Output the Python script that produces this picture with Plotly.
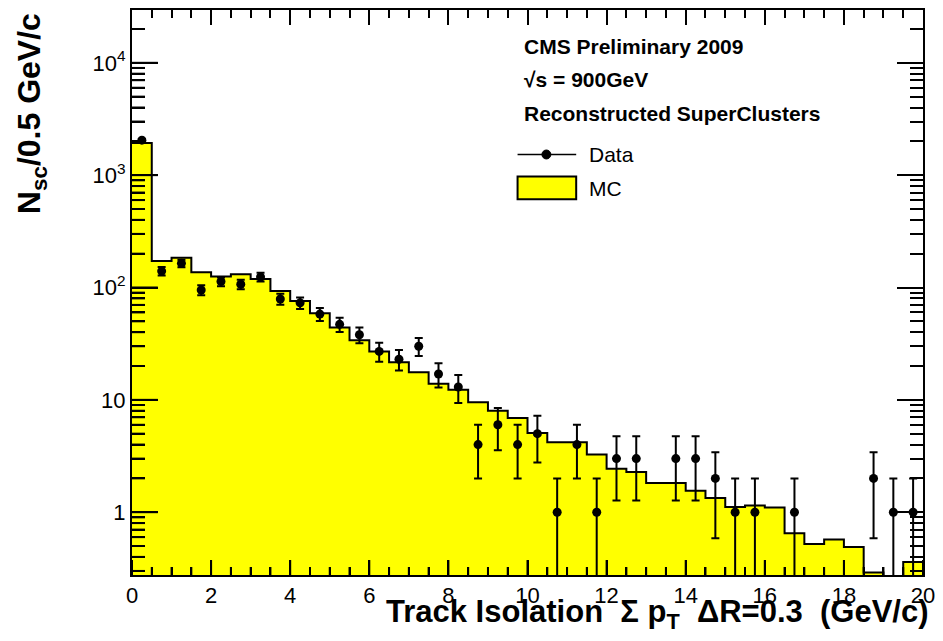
import numpy as np
import plotly.graph_objects as go

# ---- data (40 bins of 0.5 GeV/c from 0 to 20) ----
bin_width = 0.5
bin_edges = [i * bin_width for i in range(41)]
mc_counts = [1930, 172, 184, 137, 125, 131, 119, 93, 76, 59,
             44, 34, 27, 21.6, 17.6, 13.9, 12.3, 9.5, 8.0, 6.9,
             5.06, 4.2, 4.2, 3.27, 2.44, 2.28, 1.82, 1.82, 1.55, 1.34,
             1.11, 1.15, 1.10, 0.65, 0.52, 0.57, 0.49, 0.29, 0, 0.36]
data_counts = [2050, 140, 164, 95, 113, 107, 124, 79, 73, 58,
               47, 38, 27, 23, 30, 17, 13, 4, 6, 4,
               5, 1, 4, 1, 3, 3, 0, 3, 3, 2,
               1, 1, 0, 1, 0, 0, 0, 2, 1, 1]
y_tick_vals = [1, 10, 100, 1000, 10000]
y_tick_text = ["1", "10", "10<sup>2</sup>", "10<sup>3</sup>", "10<sup>4</sup>"]
x_tick_vals = [0, 2, 4, 6, 8, 10, 12, 14, 16, 18, 20]

centers = [(bin_edges[i] + bin_edges[i + 1]) / 2 for i in range(40)]

FONT = "Liberation Sans, Arial, Helvetica, sans-serif"
W, H = 943, 641
ML, MR, MT, MB = 132, 15, 8, 66
PW, PH = W - ML - MR, H - MT - MB
X_RANGE = [0, 20]
Y_RANGE = [-0.559, 4.470]


def px(x):
    return (x - ML) / PW


def py(y):
    return (H - MB - y) / PH


def ylog_paper(v):
    return (np.log10(v) - Y_RANGE[0]) / (Y_RANGE[1] - Y_RANGE[0])


fig = go.Figure()

# MC filled histogram
fig.add_trace(go.Bar(x=centers, y=mc_counts, width=bin_width,
                     marker=dict(color="#ffff00", line=dict(width=0)),
                     showlegend=False, hoverinfo="skip"))

# MC outline (step)
step_y = [v if v > 0 else 1e-3 for v in mc_counts] + [mc_counts[-1]]
fig.add_trace(go.Scatter(x=bin_edges, y=step_y, mode="lines",
                         line=dict(color="black", width=2, shape="hv"),
                         showlegend=False, hoverinfo="skip"))

# Data points with Poisson errors
dx = [c for c, n in zip(centers, data_counts) if n > 0]
dy = [n for n in data_counts if n > 0]
de = [float(np.sqrt(n)) for n in dy]
fig.add_trace(go.Scatter(x=dx, y=dy, mode="markers",
                         marker=dict(color="black", size=9),
                         error_y=dict(type="data", array=de, visible=True,
                                      color="black", thickness=2, width=4),
                         showlegend=False))

minor_y = [k * 10 ** d for d in range(-1, 5) for k in range(2, 10)
           if Y_RANGE[0] < np.log10(k * 10 ** d) < Y_RANGE[1]]
minor_x = [i * 0.5 for i in range(41) if (i * 0.5) % 2 != 0]

fig.update_layout(
    width=W, height=H,
    margin=dict(l=ML, r=MR, t=MT, b=MB),
    paper_bgcolor="white", plot_bgcolor="white",
    bargap=0, showlegend=False,
    font=dict(family=FONT, color="black"),
    xaxis=dict(range=X_RANGE, showgrid=False, zeroline=False,
               showline=True, linecolor="black", linewidth=2, mirror="ticks",
               ticks="inside", ticklen=15, tickwidth=1.5, tickcolor="black",
               tickmode="array", tickvals=x_tick_vals,
               tickfont=dict(size=22, family=FONT, color="black"),
               minor=dict(ticks="inside", ticklen=8, tickwidth=1.5,
                          tickcolor="black", dtick=0.5, showgrid=False)),
    yaxis=dict(type="log", range=Y_RANGE, showgrid=False, zeroline=False,
               showline=True, linecolor="black", linewidth=2, mirror="ticks",
               ticks="inside", ticklen=26, tickwidth=1.5, tickcolor="black",
               tickmode="array", tickvals=y_tick_vals, ticktext=y_tick_text,
               tickfont=dict(size=22, family=FONT, color="black"),
               minor=dict(ticks="inside", ticklen=13, tickwidth=1.5,
                          tickcolor="black", tickmode="array", tickvals=minor_y,
                          showgrid=False)),
)

ann = []
# axis titles
ann.append(dict(text="<b>Track Isolation  Σ p<sub>T</sub>  ΔR=0.3  (GeV/c)</b>",
                xref="paper", yref="paper", x=1.0, y=0, xanchor="right", yanchor="top",
                yshift=-17, xshift=8, showarrow=False,
                font=dict(size=31, family=FONT, color="black")))
ann.append(dict(text="<b>N<sub>sc</sub>/0.5 GeV/c</b>",
                xref="paper", yref="paper", x=px(31), y=py(9), xanchor="center",
                yanchor="top", textangle=-90, showarrow=False,
                font=dict(size=32, family=FONT, color="black")))
# info text
for txt, yy in [("<b>CMS Preliminary 2009</b>", 45), ("<b>√s = 900GeV</b>", 78),
                ("<b>Reconstructed SuperClusters</b>", 112)]:
    ann.append(dict(text=txt, xref="paper", yref="paper", x=px(524), y=py(yy),
                    xanchor="left", yanchor="middle", showarrow=False,
                    font=dict(size=21, family=FONT, color="black")))
for txt, yy in [("Data", 153), ("MC", 187)]:
    ann.append(dict(text=txt, xref="paper", yref="paper", x=px(590), y=py(yy),
                    xanchor="left", yanchor="middle", showarrow=False,
                    font=dict(size=21, family=FONT, color="black")))
fig.update_layout(annotations=ann)

tick_line = dict(color="black", width=2)
shapes = []
# bottom axis ticks (inside)
for v in x_tick_vals:
    shapes.append(dict(type="line", xref="x", x0=v, x1=v, yref="paper",
                       y0=0, y1=15 / PH, line=tick_line))
for v in minor_x:
    shapes.append(dict(type="line", xref="x", x0=v, x1=v, yref="paper",
                       y0=0, y1=8 / PH, line=tick_line))
# left axis ticks (inside)
for v in y_tick_vals:
    yp = float(ylog_paper(v))
    shapes.append(dict(type="line", yref="paper", y0=yp, y1=yp, xref="paper",
                       x0=0, x1=26 / PW, line=tick_line))
for v in minor_y:
    yp = float(ylog_paper(v))
    shapes.append(dict(type="line", yref="paper", y0=yp, y1=yp, xref="paper",
                       x0=0, x1=13 / PW, line=tick_line))
# legend symbols
shapes += [
    dict(type="line", xref="paper", yref="paper", x0=px(520), x1=px(579),
         y0=py(153), y1=py(153), line=dict(color="black", width=1.5)),
    dict(type="circle", xref="paper", yref="paper", x0=px(544.5), x1=px(553.5),
         y0=py(148.5), y1=py(157.5), fillcolor="black", line=dict(color="black", width=1)),
    dict(type="rect", xref="paper", yref="paper", x0=px(520), x1=px(579),
         y0=py(198), y1=py(175), fillcolor="#ffff00", line=dict(color="black", width=2)),
]
fig.update_layout(shapes=shapes)

fig.write_html("out.html")
